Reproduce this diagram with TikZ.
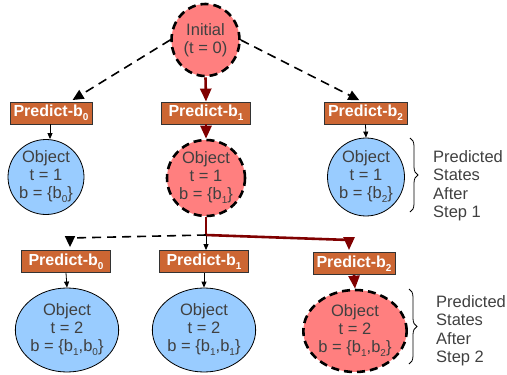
\documentclass[tikz,border=0pt]{standalone}
\usepackage{fontspec}
\setmainfont{Liberation Sans}
\usetikzlibrary{arrows.meta,shapes.geometric,decorations.pathreplacing}
\definecolor{boxfill}{HTML}{CC6633}
\definecolor{redfill}{HTML}{FF7F7F}
\definecolor{bluefill}{HTML}{99CCFF}
\definecolor{darkred}{HTML}{800000}
\definecolor{txtgray}{HTML}{404040}
\newcommand\sbx[1]{\raisebox{-4pt}{\fontsize{10}{10}\selectfont #1}}
\begin{document}
\begin{tikzpicture}[x=1pt,y=-1pt,
  pbox/.style={draw=black!80, line width=0.8pt, fill=boxfill, text=white,
    font=\fontsize{16}{18}\selectfont\bfseries, inner sep=0pt,
    minimum height=22pt, minimum width=#1},
  state/.style={ellipse, inner sep=0pt, align=center, text=txtgray,
    font=\fontsize{16.5}{18}\selectfont},
  bluestate/.style={state, draw=black, line width=0.8pt, fill=bluefill},
  redstate/.style={state, draw=black, line width=2.6pt,
    dash pattern=on 8pt off 5pt, fill=redfill},
  sz/.style 2 args={minimum width=#1, minimum height=#2},
  thinarrow/.style={draw=black, line width=0.8pt, -{Triangle[length=6pt,width=5pt]}},
  dasharrow/.style={draw=black, line width=1.6pt, dash pattern=on 9pt off 6pt,
    -{Triangle[length=11pt,width=10pt]}, shorten >=3pt},
  redarrow/.style={draw=darkred, line width=2.6pt, -{Triangle[length=13pt,width=11pt]}},
  side/.style={align=left, anchor=north west, inner sep=0pt, text=txtgray,
    font=\fontsize{16.5}{18.5}\selectfont},
  brace/.style={draw=black, line width=0.8pt,
    decorate, decoration={brace, amplitude=8pt}}
]
\useasboundingbox (0,0) rectangle (507,375);

% top
\node[redstate, sz={68pt}{72pt}] (init) at (205.5,40) {Initial\\(t = 0)};

% row 1 boxes
\node[pbox=82pt] (p0) at (51,113) {Predict-b\sbx{0}};
\node[pbox=89pt] (p1) at (206,113) {Predict-b\sbx{1}};
\node[pbox=83pt] (p2) at (365.5,113) {Predict-b\sbx{2}};

% row 1 states
\node[bluestate, sz={70pt}{75pt}] (o0) at (46,177) {Object\\t = 1\\b = \{b\sbx{0}\}};
\node[redstate, sz={78pt}{76pt}] (s1) at (206,178) {Object\\t = 1\\b = \{b\sbx{1}\}};
\node[bluestate, sz={77pt}{78pt}] (o2) at (366,177) {Object\\t = 1\\b = \{b\sbx{2}\}};

% row 2 boxes
\node[pbox=89pt] (q0) at (66,261.5) {Predict-b\sbx{0}};
\node[pbox=89pt] (q1) at (204,261.5) {Predict-b\sbx{1}};
\node[pbox=82pt] (q2) at (354,263.5) {Predict-b\sbx{2}};

% row 2 states
\node[bluestate, sz={89pt}{84pt}] (o20) at (67,330) {Object\\t = 2\\b = \{b\sbx{1},b\sbx{0}\}};
\node[bluestate, sz={88pt}{84pt}] (o21) at (204,330) {Object\\t = 2\\b = \{b\sbx{1},b\sbx{1}\}};
\node[redstate, sz={86pt}{82pt}] (s22) at (355,331) {Object\\t = 2\\b = \{b\sbx{1},b\sbx{2}\}};

% connectors from initial
\draw[dasharrow] (init.west) -- (p0.north -| 70,0);
\draw[dasharrow] (init.east) -- (p2.north -| 362,0);
\draw[redarrow] (init.south) -- (p1.north);

% row 1 box -> state
\draw[thinarrow] (p0.south -| 50,0) -- (o0.north -| 50,0);
\draw[redarrow] (p1.south) -- (s1.north);
\draw[thinarrow] (p2.south) -- (o2.north);

% branching below s1
\coordinate (j) at (206,235);
\coordinate (k) at (349,240);
\draw[darkred, line width=2.6pt] (s1.south) -- (j);
\draw[dasharrow] (j) -- (70,238) -- (q0.north -| 70,0);
\draw[thinarrow] (j) -- (q1.north -| 206,0);
\draw[redarrow, shorten >=2pt] (j) -- (k) -- (q2.north -| 349,0);

% row 2 box -> state
\draw[thinarrow] (q0.south) -- (o20.north);
\draw[thinarrow] (q1.south) -- (o21.north);
\draw[redarrow] (q2.south) -- (s22.north);

% braces and labels
\coordinate (b1t) at (410,138);
\coordinate (b1b) at (410,212);
\draw[brace] (b1t) -- (b1b);
\node[side] (l1) at (433,150) {Predicted\\States\\After\\Step 1};
\coordinate (b2t) at (409,289);
\coordinate (b2b) at (409,364);
\draw[brace] (b2t) -- (b2b);
\node[side] (l2) at (436,295) {Predicted\\States\\After\\Step 2};
\end{tikzpicture}
\end{document}
